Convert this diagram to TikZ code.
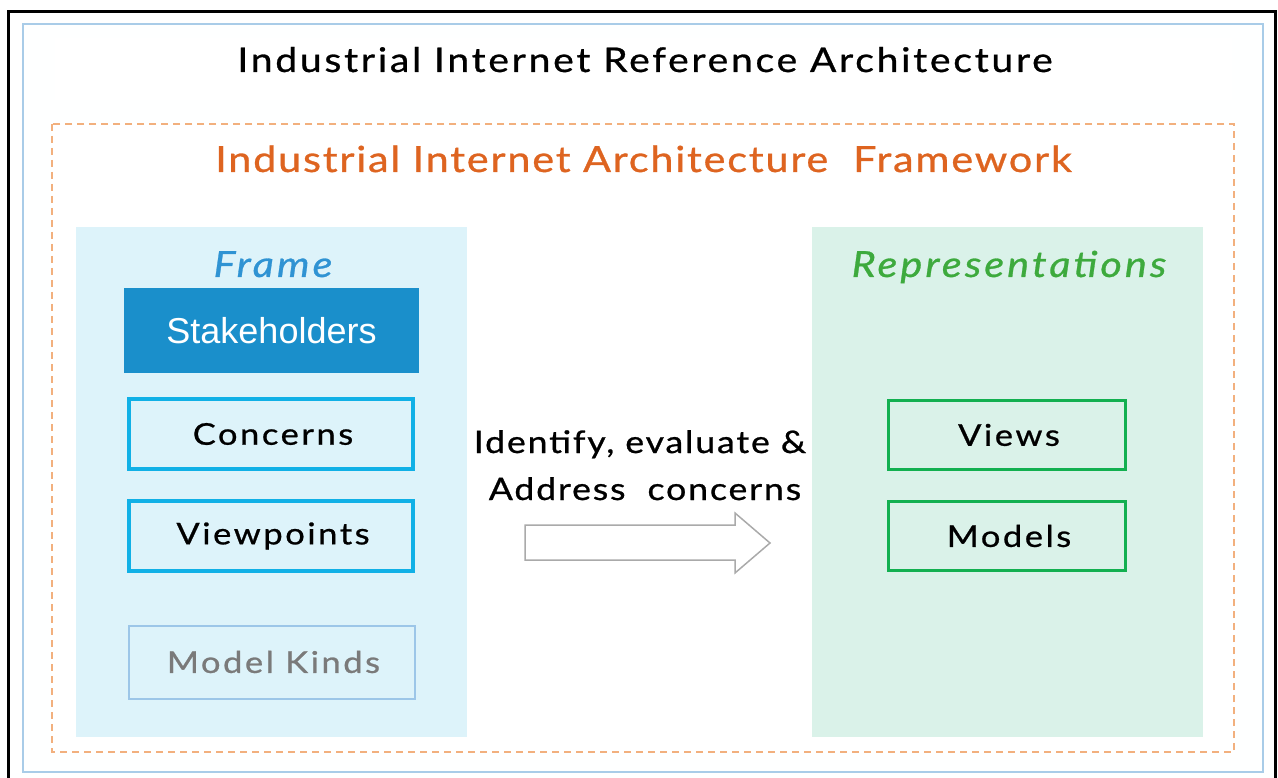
\documentclass[tikz,border=0pt]{standalone}
\usepackage{fontspec}
\setmainfont{Lato}
\newfontfamily\arialf{Liberation Sans}
\newfontfamily\lsTitle[FakeStretch=1.15,FakeBold=0.8,LetterSpace=8]{Lato}
\newfontfamily\lsSub[FakeStretch=1.15,FakeBold=0.8,LetterSpace=5]{Lato}
\newfontfamily\lsHead[FakeStretch=1.15,FakeBold=0.8,LetterSpace=8.5]{Lato}
\newfontfamily\lsBox[FakeStretch=1.15,FakeBold=0.8,LetterSpace=8.5]{Lato}
\newfontfamily\lsArr[FakeStretch=1.15,FakeBold=0.8,LetterSpace=6]{Lato}
\definecolor{outerblue}{HTML}{A9CCE8}
\definecolor{dashorange}{HTML}{F2B07E}
\definecolor{framefill}{HTML}{DDF3FA}
\definecolor{repfill}{HTML}{DAF2E9}
\definecolor{stakefill}{HTML}{1A8FCB}
\definecolor{cyanline}{HTML}{10B0E6}
\definecolor{mkline}{HTML}{9CC6E8}
\definecolor{mktext}{HTML}{7A7A7A}
\definecolor{greenline}{HTML}{12B050}
\definecolor{titleorange}{HTML}{DE6420}
\definecolor{frameblue}{HTML}{2F93D3}
\definecolor{repgreen}{HTML}{3DAA3D}
\definecolor{arrowgray}{HTML}{AAAAAA}
\tikzset{
  box/.style={draw=cyanline, line width=3.5pt, fill=framefill, minimum width=284pt, minimum height=70pt, inner sep=0pt, font=\lsBox\fontsize{30}{36}\selectfont},
  repbox/.style={draw=greenline, line width=3.5pt, fill=repfill, minimum width=237pt, minimum height=69pt, inner sep=0pt, font=\lsBox\fontsize{30}{36}\selectfont},
  label/.style={anchor=base, inner sep=0pt},
}
\begin{document}
\begin{tikzpicture}[x=1pt,y=-1pt]
\useasboundingbox (0,0) rectangle (1278,778);
\fill[white] (0,0) rectangle (1278,778);
% black frame
\draw[black, line width=3pt] (8,790) -- (8,12) -- (1275,12) -- (1275,790);
% light blue border
\draw[outerblue, line width=2pt, fill=white!97!framefill] (23,24) rectangle (1263,772);
\fill[white] (55,38) rectangle (1232,100);
% dashed orange
\draw[dashorange, line width=1.5pt, dash pattern=on 7pt off 5pt, fill=white] (52,124) rectangle (1234,752);
% panels
\fill[framefill] (76,227) rectangle (467,737);
\fill[repfill] (812,227) rectangle (1203,737);
% titles
\node[label, font=\lsTitle\fontsize{34}{40}\selectfont] (title) at (645,72) {Industrial Internet Reference Architecture};
\node[label, text=titleorange, font=\lsSub\fontsize{36}{42}\selectfont] (sub) at (643.5,172) {Industrial Internet Architecture\ \ Framework};
\node[label, text=frameblue, font=\lsHead\fontsize{36}{42}\selectfont\itshape] (frame) at (273,277) {Frame};
\node[label, text=repgreen, font=\lsHead\fontsize{36}{42}\selectfont\itshape] (rep) at (1009,277) {Representations};
% frame boxes
\node[fill=stakefill, minimum width=295pt, minimum height=85pt, inner sep=0pt, text=white, font=\arialf\fontsize{36}{40}\selectfont] (stake) at (271.5,330.5) {Stakeholders};
\node[box] (conc) at (271,434) {\hspace*{4pt}Concerns};
\node[box] (view) at (271,536) {\hspace*{4pt}Viewpoints};
\node[box, draw=mkline, line width=2pt, minimum width=286pt, minimum height=73pt, text=mktext] (mk) at (271.5,662) {\hspace*{4pt}Model Kinds};
% rep boxes
\node[repbox] (views) at (1007,435) {\hspace*{4pt}Views};
\node[repbox] (models) at (1007,536) {\hspace*{4pt}Models};
% arrow text
\node[label, font=\lsArr\fontsize{31}{36}\selectfont] (l1) at (640,453) {Identify, evaluate \&};
\node[label, font=\lsArr\fontsize{31}{36}\selectfont] (l2) at (645,500) {Address\ \ concerns};
% block arrow
\draw[arrowgray, line width=1.5pt, fill=white, line join=miter] (525,525) -- (735,525) -- (735,513) -- (770,543) -- (735,573) -- (735,560) -- (525,560) -- cycle;
\end{tikzpicture}
\end{document}
